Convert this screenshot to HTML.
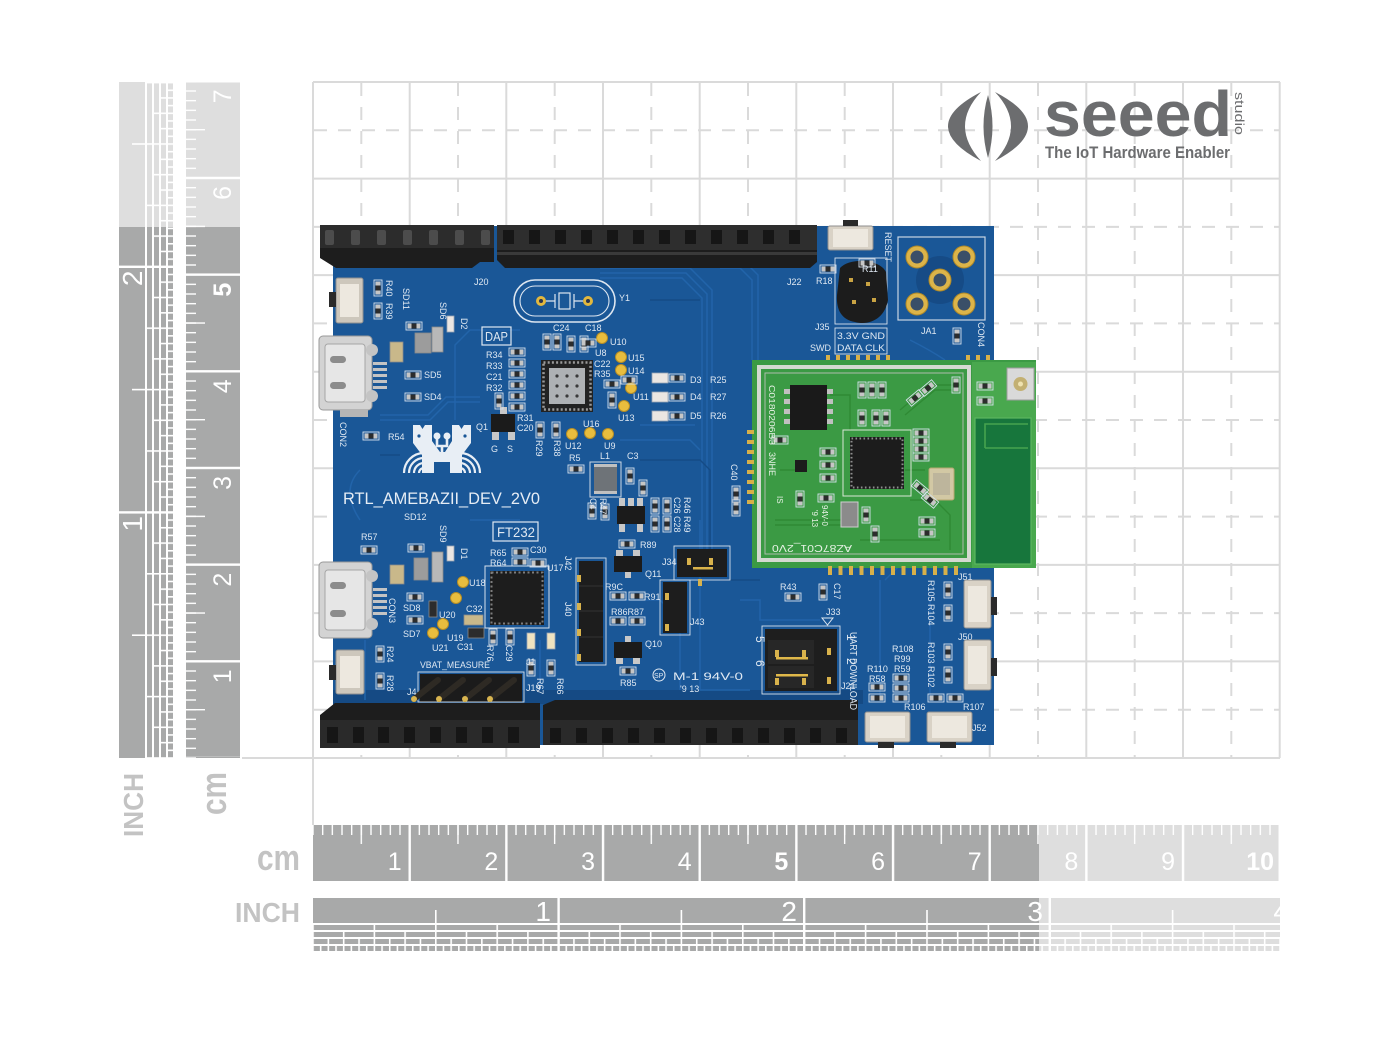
<!DOCTYPE html>
<html><head><meta charset="utf-8">
<style>
html,body{margin:0;padding:0;background:#fff;}
svg{display:block}
.s{font-family:"Liberation Sans",sans-serif;font-size:9px;fill:#dfe8f2}
.sm{font-family:"Liberation Sans",sans-serif;font-size:8px;fill:#e6f2e4}
.rl{font-family:"Liberation Sans",sans-serif;fill:#fff}
.lb{font-family:"Liberation Sans",sans-serif;font-weight:bold;fill:#c3c3c3}
</style></head><body>
<svg width="1400" height="1051" viewBox="0 0 1400 1051" xmlns="http://www.w3.org/2000/svg">
<defs>
<pattern id="cmm" patternUnits="userSpaceOnUse" x="312.3" y="0" width="9.6667" height="2000"><rect width="1.4" height="2000" fill="#fff"/></pattern>
<pattern id="chalf" patternUnits="userSpaceOnUse" x="360.6" y="0" width="96.667" height="2000"><rect width="1.4" height="2000" fill="#fff"/></pattern>
<pattern id="ccm" patternUnits="userSpaceOnUse" x="408.5" y="0" width="96.667" height="2000"><rect width="2.4" height="2000" fill="#fff"/></pattern>
<pattern id="pi4" patternUnits="userSpaceOnUse" x="312.2" y="0" width="61.4" height="2000"><rect width="1.6" height="2000" fill="#fff"/></pattern>
<pattern id="pi8" patternUnits="userSpaceOnUse" x="312.2" y="0" width="30.7" height="2000"><rect width="1.6" height="2000" fill="#fff"/></pattern>
<pattern id="pi16" patternUnits="userSpaceOnUse" x="312.2" y="0" width="15.35" height="2000"><rect width="1.6" height="2000" fill="#fff"/></pattern>
<pattern id="pi32" patternUnits="userSpaceOnUse" x="312.2" y="0" width="7.675" height="2000"><rect width="1.6" height="2000" fill="#fff"/></pattern>
<pattern id="vmm" patternUnits="userSpaceOnUse" x="0" y="757.3" width="2000" height="9.6667"><rect width="2000" height="1.4" fill="#fff"/></pattern>
<pattern id="vhalf" patternUnits="userSpaceOnUse" x="0" y="709" width="2000" height="96.667"><rect width="2000" height="1.4" fill="#fff"/></pattern>
<pattern id="vcm" patternUnits="userSpaceOnUse" x="0" y="660.1" width="2000" height="96.667"><rect width="2000" height="2.4" fill="#fff"/></pattern>
<pattern id="vi4" patternUnits="userSpaceOnUse" x="0" y="757.2" width="2000" height="61.4"><rect width="2000" height="1.6" fill="#fff"/></pattern>
<pattern id="vi8" patternUnits="userSpaceOnUse" x="0" y="757.2" width="2000" height="30.7"><rect width="2000" height="1.6" fill="#fff"/></pattern>
<pattern id="vi16" patternUnits="userSpaceOnUse" x="0" y="757.2" width="2000" height="15.35"><rect width="2000" height="1.6" fill="#fff"/></pattern>
<pattern id="vi32" patternUnits="userSpaceOnUse" x="0" y="757.2" width="2000" height="7.675"><rect width="2000" height="1.6" fill="#fff"/></pattern>
<g id="rh"><rect x="-8" y="-4" width="16" height="8" fill="none" stroke="#d6e0ec" stroke-width="0.9"/><rect x="-6.5" y="-2.6" width="4" height="5.2" fill="#c6c6c6"/><rect x="2.5" y="-2.6" width="4" height="5.2" fill="#c6c6c6"/><rect x="-2.5" y="-2.6" width="5" height="5.2" fill="#2c2c2c"/></g>
<g id="rv"><rect x="-4" y="-8" width="8" height="16" fill="none" stroke="#d6e0ec" stroke-width="0.9"/><rect x="-2.6" y="-6.5" width="5.2" height="4" fill="#c6c6c6"/><rect x="-2.6" y="2.5" width="5.2" height="4" fill="#c6c6c6"/><rect x="-2.6" y="-2.5" width="5.2" height="5" fill="#2c2c2c"/></g>
<g id="gp"><circle r="5.5" fill="#e8bd3e" stroke="#b58d26" stroke-width="1"/></g>
<g id="gpin"><rect x="-2" y="-3" width="4" height="7" fill="#d8b24c"/></g>
</defs>

<rect width="1400" height="1051" fill="#fff"/>

<!-- GRID -->
<g stroke="#dadada" stroke-width="2" fill="none">
<path d="M313 82V825M409.7 82V758M506.3 82V758M603 82V758M699.7 82V758M796.3 82V758M893 82V758M989.7 82V758M1086.3 82V758M1183 82V758M1279.7 82V758"/>
<path d="M313 82H1280M313 178.6H1280M313 275.1H1280M313 371.7H1280M313 468.3H1280M313 564.9H1280M313 661.4H1280M242 758H1280"/>
<path stroke-dasharray="13 11" d="M361.3 83V758M458 83V758M554.7 83V758M651.3 83V758M748 83V758M844.7 83V758M941.3 83V758M1038 83V758M1134.7 83V758M1231.3 83V758"/>
<path stroke-dasharray="13 11" d="M314 130.3H1280M314 226.9H1280M314 323.4H1280M314 420H1280M314 516.6H1280M314 613.1H1280M314 709.7H1280"/>
</g>

<!-- LEFT INCH RULER -->
<g fill="#a8a9a9">
<rect x="119" y="227" width="26" height="531"/><rect x="147" y="227" width="5" height="531"/><rect x="154" y="227" width="5" height="531"/><rect x="161" y="227" width="5" height="531"/><rect x="168" y="227" width="5" height="531"/>
</g>
<g fill="#dedede">
<rect x="119" y="82" width="26" height="145"/><rect x="147" y="82" width="5" height="145"/><rect x="154" y="82" width="5" height="145"/><rect x="161" y="82" width="5" height="145"/><rect x="168" y="82" width="5" height="145"/>
</g>
<rect x="147" y="82" width="5" height="676" fill="url(#vi4)"/>
<rect x="154" y="82" width="5" height="676" fill="url(#vi8)"/>
<rect x="161" y="82" width="5" height="676" fill="url(#vi16)"/>
<rect x="168" y="82" width="5" height="676" fill="url(#vi32)"/>
<g fill="#fff">
<rect x="119" y="511.2" width="54" height="2.4"/><rect x="119" y="265.6" width="54" height="2.4"/>
<rect x="132" y="634.4" width="13" height="1.6"/><rect x="132" y="388.8" width="13" height="1.6"/><rect x="132" y="143.2" width="13" height="1.6"/>
</g>
<text class="rl" font-size="28" text-anchor="end" transform="translate(142,516) rotate(-90)">1</text>
<text class="rl" font-size="28" text-anchor="end" transform="translate(142,270.5) rotate(-90)">2</text>

<!-- LEFT CM RULER -->
<rect x="186" y="227" width="54" height="531" fill="#a8a9a9"/>
<rect x="186" y="82" width="54" height="145" fill="#dedede"/>
<rect x="186" y="82" width="10" height="676" fill="url(#vmm)"/>
<rect x="186" y="82" width="19" height="676" fill="url(#vhalf)"/>
<rect x="186" y="82" width="54" height="675" fill="url(#vcm)"/>
<g class="rl" font-size="25" text-anchor="end">
<text transform="translate(231,669.3) rotate(-90)">1</text>
<text transform="translate(231,572.7) rotate(-90)">2</text>
<text transform="translate(231,476) rotate(-90)">3</text>
<text transform="translate(231,379.3) rotate(-90)">4</text>
<text transform="translate(231,282.7) rotate(-90)" font-weight="bold">5</text>
<text transform="translate(231,186) rotate(-90)">6</text>
<text transform="translate(231,89.3) rotate(-90)">7</text>
</g>
<text class="lb" font-size="28" textLength="64" lengthAdjust="spacingAndGlyphs" transform="translate(143,837) rotate(-90)">INCH</text>
<text class="lb" font-size="36" textLength="43" lengthAdjust="spacingAndGlyphs" transform="translate(226,815) rotate(-90)">cm</text>

<!-- BOTTOM CM RULER -->
<rect x="313" y="825" width="726" height="56" fill="#a8a9a9"/>
<rect x="1039" y="825" width="241" height="56" fill="#dedede"/>
<rect x="313" y="825" width="967" height="10" fill="url(#cmm)"/>
<rect x="313" y="825" width="967" height="19" fill="url(#chalf)"/>
<rect x="316" y="825" width="966" height="56" fill="url(#ccm)"/>
<g class="rl" font-size="25" text-anchor="end">
<text x="401.7" y="870">1</text><text x="498.3" y="870">2</text><text x="595" y="870">3</text><text x="691.7" y="870">4</text>
<text x="788.3" y="870" font-weight="bold">5</text><text x="885" y="870">6</text><text x="981.7" y="870">7</text>
<text x="1078.3" y="870">8</text><text x="1175" y="870">9</text><text x="1274" y="870" font-weight="bold">10</text>
</g>
<text class="lb" x="257" y="870" font-size="36" textLength="43" lengthAdjust="spacingAndGlyphs">cm</text>

<!-- BOTTOM INCH RULER -->
<g fill="#a8a9a9">
<rect x="313" y="898" width="726" height="25"/><rect x="313" y="925" width="726" height="5"/><rect x="313" y="932" width="726" height="5"/><rect x="313" y="939" width="726" height="5"/><rect x="313" y="946" width="726" height="5"/>
</g>
<g fill="#dedede">
<rect x="1039" y="898" width="241" height="25"/><rect x="1039" y="925" width="241" height="5"/><rect x="1039" y="932" width="241" height="5"/><rect x="1039" y="939" width="241" height="5"/><rect x="1039" y="946" width="241" height="5"/>
</g>
<rect x="313" y="925" width="967" height="5" fill="url(#pi4)"/>
<rect x="313" y="932" width="967" height="5" fill="url(#pi8)"/>
<rect x="313" y="939" width="967" height="5" fill="url(#pi16)"/>
<rect x="313" y="946" width="967" height="5" fill="url(#pi32)"/>
<g fill="#fff">
<rect x="557.4" y="898" width="2.4" height="53"/><rect x="803" y="898" width="2.4" height="53"/><rect x="1048.6" y="898" width="2.4" height="53"/>
<rect x="435" y="910" width="1.6" height="13"/><rect x="680.6" y="910" width="1.6" height="13"/><rect x="926.2" y="910" width="1.6" height="13"/><rect x="1171.8" y="910" width="1.6" height="13"/>
</g>
<g class="rl" font-size="28" text-anchor="end">
<text x="551" y="921">1</text><text x="797" y="921">2</text><text x="1043" y="921">3</text><text x="1289" y="921">4</text>
</g>
<rect x="1280" y="892" width="40" height="64" fill="#fff"/>
<text class="lb" x="235" y="922" font-size="28" textLength="65" lengthAdjust="spacingAndGlyphs">INCH</text>

<!-- SEEED LOGO -->
<g fill="#6c6d6f">
<path d="M981 92 Q915 126 981 161 Q949 126 981 92Z"/>
<path d="M995 92 Q1061 126 995 161 Q1027 126 995 92Z"/>
<path d="M988 95 Q979 126 988 158 Q997 126 988 95Z"/>
</g>
<text x="1044" y="136" font-family="Liberation Sans, sans-serif" font-weight="bold" font-size="64" fill="#6c6d6f" textLength="188" lengthAdjust="spacingAndGlyphs">seeed</text>
<text font-family="Liberation Sans, sans-serif" font-size="12.5" fill="#6c6d6f" textLength="43" lengthAdjust="spacingAndGlyphs" transform="translate(1235,92) rotate(90)">studio</text>
<text x="1045" y="158" font-family="Liberation Sans, sans-serif" font-weight="bold" font-size="16.5" fill="#6c6d6f" textLength="185" lengthAdjust="spacingAndGlyphs">The IoT Hardware Enabler</text>

<!-- ===== BOARD ===== -->
<rect x="333" y="226" width="661" height="519" fill="#1a5797"/>
<rect x="333" y="690" width="530" height="14" fill="#154a84"/>
<!-- traces -->
<g fill="none" stroke="#2264aa" stroke-width="1.5">
<path d="M600 268H690L712 290V565"/><path d="M600 273H686L707 294V565"/><path d="M600 278H682L702 298V565"/>
<path d="M720 268H740L752 280V360"/><path d="M727 262H745L758 275V360"/>
<path d="M520 330H470L455 345V420"/><path d="M525 412H500"/>
<path d="M380 420H430L448 402H480"/><path d="M380 415H428L446 397H480"/>
<path d="M620 440H690L700 450"/><path d="M640 425H695"/>
<path d="M360 470Q340 490 360 520"/><path d="M365 640V700"/>
<path d="M620 600H660L680 620V690"/><path d="M540 640V690"/>
<path d="M740 600H760V620H820"/><path d="M880 580V700"/><path d="M885 580L900 565"/>
<path d="M910 340Q930 350 945 360"/><path d="M700 520V690H750"/>
<path d="M930 600V700"/><path d="M470 520H520"/>
</g>
<g fill="none" stroke="#154b86" stroke-width="1.4">
<path d="M650 300H700"/><path d="M640 460H700L710 470V560"/><path d="M400 455H380"/><path d="M720 580H760"/>
</g>

<!-- top headers -->
<path d="M320 225H494V262H480L472 268H336L320 258Z" fill="#1d1d1d"/>
<rect x="320" y="225" width="174" height="23" fill="#2c2c2c"/>
<g fill="#4c4c4c"><rect x="325" y="230" width="9" height="15" rx="2"/><rect x="351" y="230" width="9" height="15" rx="2"/><rect x="377" y="230" width="9" height="15" rx="2"/><rect x="403" y="230" width="9" height="15" rx="2"/><rect x="429" y="230" width="9" height="15" rx="2"/><rect x="455" y="230" width="9" height="15" rx="2"/><rect x="481" y="230" width="9" height="15" rx="2"/></g>
<path d="M497 225H817V262L810 268H505L497 260Z" fill="#1d1d1d"/>
<rect x="497" y="225" width="320" height="25" fill="#2e2e2e"/>
<g fill="#161616"><rect x="503" y="230" width="11" height="14"/><rect x="529" y="230" width="11" height="14"/><rect x="555" y="230" width="11" height="14"/><rect x="581" y="230" width="11" height="14"/><rect x="607" y="230" width="11" height="14"/><rect x="633" y="230" width="11" height="14"/><rect x="659" y="230" width="11" height="14"/><rect x="685" y="230" width="11" height="14"/><rect x="711" y="230" width="11" height="14"/><rect x="737" y="230" width="11" height="14"/><rect x="763" y="230" width="11" height="14"/><rect x="789" y="230" width="11" height="14"/></g>
<rect x="497" y="252" width="320" height="3" fill="#3a3a3a"/>

<!-- bottom headers -->
<path d="M320 715L335 703H540V748H320Z" fill="#1d1d1d"/>
<rect x="320" y="720" width="220" height="28" fill="#2a2a2a"/>
<g fill="#161616"><rect x="327" y="727" width="11" height="16"/><rect x="353" y="727" width="11" height="16"/><rect x="378" y="727" width="11" height="16"/><rect x="404" y="727" width="11" height="16"/><rect x="430" y="727" width="11" height="16"/><rect x="456" y="727" width="11" height="16"/><rect x="482" y="727" width="11" height="16"/><rect x="508" y="727" width="11" height="16"/></g>
<path d="M543 705L555 700H858V745H543Z" fill="#1d1d1d"/>
<rect x="543" y="720" width="315" height="25" fill="#2a2a2a"/>
<g fill="#161616"><rect x="550" y="728" width="11" height="15"/><rect x="576" y="728" width="11" height="15"/><rect x="602" y="728" width="11" height="15"/><rect x="628" y="728" width="11" height="15"/><rect x="654" y="728" width="11" height="15"/><rect x="680" y="728" width="11" height="15"/><rect x="706" y="728" width="11" height="15"/><rect x="732" y="728" width="11" height="15"/><rect x="758" y="728" width="11" height="15"/><rect x="784" y="728" width="11" height="15"/><rect x="810" y="728" width="11" height="15"/><rect x="836" y="728" width="11" height="15"/></g>

<!-- J4 right-angle header -->
<rect x="420" y="674" width="102" height="28" fill="#1b1b1b"/>
<rect x="418" y="672" width="106" height="30" fill="none" stroke="#d6e0ec" stroke-width="0.9"/>
<g stroke="#2e2a24" stroke-width="6" stroke-linecap="round"><path d="M414 699L438 680"/><path d="M439 699L463 680"/><path d="M465 699L489 680"/><path d="M490 699L514 680"/></g>
<g fill="#d9b550"><circle cx="414" cy="699" r="3"/><circle cx="439" cy="699" r="3"/><circle cx="465" cy="699" r="3"/><circle cx="490" cy="699" r="3"/></g>

<!-- USB connectors -->
<g>
<rect x="319" y="336" width="53" height="74" rx="4" fill="#d3d3d3" stroke="#9a9a9a"/>
<rect x="325" y="344" width="40" height="58" rx="3" fill="#e6e6e6" stroke="#a5a5a5"/>
<rect x="330" y="356" width="16" height="7" rx="3.5" fill="#8c8c8c"/><rect x="330" y="382" width="16" height="7" rx="3.5" fill="#8c8c8c"/>
<rect x="340" y="409" width="28" height="8" fill="#b5b5b5"/>
<circle cx="372" cy="350" r="6" fill="#c4c4c4"/><circle cx="372" cy="396" r="6" fill="#c4c4c4"/>
<g fill="#c4c4c4"><rect x="373" y="362" width="14" height="3"/><rect x="373" y="368" width="14" height="3"/><rect x="373" y="374" width="14" height="3"/><rect x="373" y="380" width="14" height="3"/><rect x="373" y="386" width="14" height="3"/></g>
</g>
<g transform="translate(0,226)">
<rect x="319" y="336" width="53" height="76" rx="4" fill="#d3d3d3" stroke="#9a9a9a"/>
<rect x="325" y="344" width="40" height="60" rx="3" fill="#e6e6e6" stroke="#a5a5a5"/>
<rect x="330" y="356" width="16" height="7" rx="3.5" fill="#8c8c8c"/><rect x="330" y="384" width="16" height="7" rx="3.5" fill="#8c8c8c"/>
<circle cx="372" cy="350" r="6" fill="#c4c4c4"/><circle cx="372" cy="398" r="6" fill="#c4c4c4"/>
<g fill="#c4c4c4"><rect x="373" y="362" width="14" height="3"/><rect x="373" y="368" width="14" height="3"/><rect x="373" y="374" width="14" height="3"/><rect x="373" y="380" width="14" height="3"/><rect x="373" y="386" width="14" height="3"/></g>
</g>

<!-- slide switches -->
<g stroke="#8f8f8f">
<rect x="336" y="278" width="27" height="45" rx="2" fill="#cdc7bc"/>
<rect x="336" y="650" width="28" height="44" rx="2" fill="#cdc7bc"/>
<rect x="828" y="226" width="45" height="24" rx="2" fill="#d9d2c6"/>
<rect x="964" y="580" width="27" height="48" rx="2" fill="#d9d2c6"/>
<rect x="964" y="640" width="27" height="50" rx="2" fill="#d9d2c6"/>
<rect x="865" y="712" width="45" height="30" rx="2" fill="#d9d2c6"/>
<rect x="927" y="712" width="45" height="30" rx="2" fill="#d9d2c6"/>
</g>
<g fill="#ede8df">
<rect x="340" y="284" width="19" height="33"/><rect x="340" y="656" width="20" height="32"/>
<rect x="833" y="229" width="35" height="18"/><rect x="968" y="586" width="19" height="36"/><rect x="968" y="646" width="19" height="38"/>
<rect x="870" y="716" width="35" height="22"/><rect x="932" y="716" width="35" height="22"/>
</g>
<g fill="#2a2a2a">
<rect x="329" y="292" width="7" height="15"/><rect x="329" y="665" width="7" height="15"/><rect x="843" y="220" width="15" height="6"/>
<rect x="991" y="597" width="6" height="18"/><rect x="991" y="658" width="6" height="18"/><rect x="878" y="742" width="16" height="6"/><rect x="940" y="742" width="16" height="6"/>
</g>

<!-- JA1 -->
<rect x="898" y="237" width="87" height="83" fill="none" stroke="#c9d5e3" stroke-width="1.2"/>
<circle cx="940" cy="280" r="24" fill="#164b86"/>
<g fill="#dcb449" stroke="#b18a28"><circle cx="917" cy="257" r="11"/><circle cx="964" cy="257" r="11"/><circle cx="940" cy="280" r="11"/><circle cx="917" cy="304" r="11"/><circle cx="964" cy="304" r="11"/></g>
<g fill="#3a4f68"><circle cx="917" cy="257" r="6.5"/><circle cx="964" cy="257" r="6.5"/><circle cx="940" cy="280" r="6.5"/><circle cx="917" cy="304" r="6.5"/><circle cx="964" cy="304" r="6.5"/></g>

<!-- SWD blob -->
<rect x="835" y="258" width="52" height="66" fill="none" stroke="#d6e0ec" stroke-width="0.9"/>
<path d="M840 268C850 257 880 259 886 272L888 300C885 318 870 326 855 322C842 320 836 310 837 295Z" fill="#1c1c1c"/>
<g fill="#c9a343"><rect x="849" y="278" width="4" height="4"/><rect x="866" y="282" width="4" height="4"/><rect x="852" y="300" width="4" height="4"/><rect x="872" y="298" width="4" height="4"/></g>
<rect x="835" y="328" width="52" height="26" fill="none" stroke="#d6e0ec" stroke-width="0.9"/>

<!-- crystal Y1 -->
<rect x="514" y="280" width="101" height="42" rx="21" fill="none" stroke="#dde6f0" stroke-width="1.6"/>
<rect x="520" y="286" width="89" height="30" rx="15" fill="none" stroke="#dde6f0" stroke-width="1.1"/>
<g fill="#e2b83e"><circle cx="541" cy="301" r="5"/><circle cx="588" cy="301" r="5"/></g>
<g fill="#2a3550"><circle cx="541" cy="301" r="2"/><circle cx="588" cy="301" r="2"/></g>
<g stroke="#dde6f0" stroke-width="1.2" fill="none"><path d="M546 301H555M555 294V308M574 294V308M574 301H583"/><rect x="559" y="293" width="11" height="16"/></g>

<!-- DAP chip -->
<rect x="541" y="360" width="52" height="52" fill="#222"/>
<rect x="543.5" y="362.5" width="47" height="47" fill="none" stroke="#9a9a9a" stroke-width="2.5" stroke-dasharray="2 2.2"/>
<rect x="549" y="368" width="36" height="36" fill="#aeb1b4"/>
<g fill="#3a3a3a"><circle cx="557" cy="376" r="1.6"/><circle cx="567" cy="376" r="1.6"/><circle cx="577" cy="376" r="1.6"/><circle cx="557" cy="386" r="1.6"/><circle cx="567" cy="386" r="1.6"/><circle cx="577" cy="386" r="1.6"/><circle cx="557" cy="396" r="1.6"/><circle cx="567" cy="396" r="1.6"/><circle cx="577" cy="396" r="1.6"/></g>
<rect x="482" y="327" width="29" height="18" fill="none" stroke="#dfe8f2" stroke-width="1.2"/>
<text x="485" y="341" font-family="Liberation Sans, sans-serif" font-size="13" fill="#dfe8f2" textLength="23" lengthAdjust="spacingAndGlyphs">DAP</text>

<!-- FT232 chip -->
<rect x="485" y="566" width="64" height="62" fill="none" stroke="#d6e0ec" stroke-width="1"/>
<rect x="490" y="571" width="54" height="54" fill="#1d1d1d"/>
<rect x="491.5" y="572.5" width="51" height="51" fill="none" stroke="#7d7d7d" stroke-width="2" stroke-dasharray="2 2.5"/>
<rect x="493" y="522" width="45" height="19" fill="none" stroke="#dfe8f2" stroke-width="1.2"/>
<text x="497" y="537" font-family="Liberation Sans, sans-serif" font-size="14" fill="#dfe8f2" textLength="38" lengthAdjust="spacingAndGlyphs">FT232</text>

<!-- Realtek logo -->
<g fill="#e8eef5">
<path d="M413 425H420L422.5 429L425 425H432V441L440 452H445L452 441V425H459L461.5 429L464 425H471V443L462 455V473H450V462H434V473H422V455L413 443Z"/>
<circle cx="437" cy="436" r="3.5"/><circle cx="447" cy="436" r="3.5"/>
</g>
<path d="M437 436V446H447V436M442 446V452" fill="none" stroke="#e8eef5" stroke-width="2.6"/>
<g fill="#1a5797"><circle cx="419" cy="436" r="1.6"/><circle cx="465" cy="436" r="1.6"/></g>
<g fill="none" stroke="#e8eef5" stroke-width="2.2">
<path d="M419 473A5 5 0 0 1 424 468"/><path d="M414 473A10 10 0 0 1 424 463"/><path d="M409 473A15 15 0 0 1 424 458"/><path d="M404 473A20 20 0 0 1 424 453"/>
<path d="M465 473A5 5 0 0 0 460 468"/><path d="M470 473A10 10 0 0 0 460 463"/><path d="M475 473A15 15 0 0 0 460 458"/><path d="M480 473A20 20 0 0 0 460 453"/>
</g>

<!-- Transistors / ICs -->
<g fill="#1b1b1b"><rect x="491" y="414" width="24" height="18"/><rect x="614" y="556" width="28" height="16"/><rect x="614" y="642" width="28" height="16"/><rect x="617" y="506" width="28" height="18"/></g>
<g fill="#c8c8c8">
<rect x="492" y="432" width="7" height="8"/><rect x="508" y="432" width="7" height="8"/><rect x="500" y="407" width="7" height="7"/>
<rect x="616" y="550" width="7" height="6"/><rect x="633" y="550" width="7" height="6"/><rect x="625" y="572" width="6" height="6"/>
<rect x="625" y="636" width="6" height="6"/><rect x="616" y="658" width="7" height="6"/><rect x="633" y="658" width="7" height="6"/>
<rect x="619" y="498" width="6" height="8"/><rect x="628" y="498" width="6" height="8"/><rect x="637" y="498" width="6" height="8"/><rect x="619" y="524" width="6" height="8"/><rect x="637" y="524" width="6" height="8"/>
</g>
<!-- L1 -->
<rect x="590" y="462" width="31" height="35" fill="none" stroke="#cfd9e5"/>
<rect x="594" y="467" width="23" height="24" fill="#6e7378"/>
<rect x="594" y="464" width="23" height="3" fill="#c0c0c0"/><rect x="594" y="491" width="23" height="3" fill="#c0c0c0"/>

<!-- Jumpers -->
<rect x="576" y="558" width="30" height="107" fill="none" stroke="#d6e0ec" stroke-width="0.9"/>
<rect x="579" y="561" width="24" height="101" fill="#1d1d1d"/>
<g stroke="#333" stroke-width="1"><path d="M579 586H603M579 611H603M579 637H603"/></g>
<rect x="674" y="546" width="56" height="34" fill="none" stroke="#d6e0ec" stroke-width="0.9"/>
<rect x="677" y="549" width="50" height="28" fill="#1d1d1d"/>
<rect x="693" y="567" width="20" height="2.5" fill="#d9b24a"/>
<rect x="660" y="580" width="30" height="55" fill="none" stroke="#d6e0ec" stroke-width="0.9"/>
<rect x="663" y="582" width="24" height="51" fill="#1d1d1d"/>
<rect x="762" y="626" width="78" height="68" fill="none" stroke="#d6e0ec" stroke-width="0.9"/>
<rect x="765" y="629" width="72" height="62" fill="#1e1e1e"/>
<rect x="768" y="640" width="46" height="24" fill="#272727"/><rect x="768" y="666" width="46" height="22" fill="#272727"/>
<rect x="776" y="657" width="32" height="2.5" fill="#e0b84a"/><rect x="776" y="674" width="32" height="2.5" fill="#e0b84a"/>
<g>
<use href="#gpin" x="579" y="578"/><use href="#gpin" x="579" y="606"/><use href="#gpin" x="579" y="632"/><use href="#gpin" x="579" y="657"/>
<use href="#gpin" x="689" y="561"/><use href="#gpin" x="711" y="561"/><use href="#gpin" x="700" y="582"/>
<use href="#gpin" x="667" y="596"/><use href="#gpin" x="667" y="627"/>
<use href="#gpin" x="777" y="653"/><use href="#gpin" x="804" y="653"/><use href="#gpin" x="777" y="681"/><use href="#gpin" x="804" y="681"/><use href="#gpin" x="829" y="651"/><use href="#gpin" x="829" y="680"/>
</g>
<path d="M822 618H833L827.5 625Z" fill="none" stroke="#dfe8f2"/>

<!-- gold test points -->
<g>
<use href="#gp" x="602" y="338"/><use href="#gp" x="621" y="357"/><use href="#gp" x="621" y="370"/><use href="#gp" x="631" y="388"/><use href="#gp" x="624" y="406"/>
<use href="#gp" x="590" y="433"/><use href="#gp" x="572" y="434"/><use href="#gp" x="608" y="434"/>
<use href="#gp" x="463" y="582"/><use href="#gp" x="456" y="598"/><use href="#gp" x="443" y="624"/><use href="#gp" x="433" y="633"/>
</g>

<!-- LEDs & passives -->
<g fill="#ebe6e2" stroke="#9aa6b5" stroke-width="0.8">
<rect x="652" y="373" width="16" height="10"/><rect x="652" y="392" width="16" height="10"/><rect x="652" y="411" width="16" height="10"/>
<rect x="447" y="316" width="7" height="16"/><rect x="447" y="546" width="7" height="15"/>
</g>
<g fill="#efe3c0" stroke="#9aa6b5" stroke-width="0.8"><rect x="527" y="633" width="8" height="16"/><rect x="547" y="633" width="8" height="16"/></g>
<g stroke="#8a8a8a" stroke-width="0.8">
<rect x="415" y="333" width="16" height="20" fill="#9c9c9c"/><rect x="414" y="558" width="14" height="22" fill="#9c9c9c"/>
<rect x="390" y="342" width="13" height="20" fill="#c9b88a"/><rect x="390" y="565" width="14" height="19" fill="#c9b88a"/>
<rect x="432" y="327" width="11" height="25" fill="#b8b8b8"/><rect x="432" y="552" width="11" height="30" fill="#b8b8b8"/>
<rect x="464" y="615" width="19" height="10" fill="#c9b88a"/><rect x="468" y="628" width="16" height="10" fill="#2c2c2c"/>
<rect x="429" y="601" width="8" height="16" fill="#2c2c2c"/>
</g>
<g>
<use href="#rv" x="378" y="288"/><use href="#rv" x="378" y="311"/>
<use href="#rh" x="414" y="326"/><use href="#rh" x="413" y="375"/><use href="#rh" x="413" y="397"/>
<use href="#rh" x="517" y="352"/><use href="#rh" x="517" y="363"/><use href="#rh" x="517" y="374"/><use href="#rh" x="517" y="385"/><use href="#rh" x="517" y="396"/><use href="#rh" x="517" y="407"/>
<use href="#rv" x="499" y="401"/>
<use href="#rv" x="547" y="342"/><use href="#rv" x="557" y="342"/><use href="#rv" x="571" y="344"/><use href="#rv" x="584" y="344"/>
<use href="#rh" x="588" y="343"/>
<use href="#rh" x="371" y="436"/>
<use href="#rv" x="540" y="430"/><use href="#rv" x="556" y="430"/>
<use href="#rh" x="576" y="469"/>
<use href="#rv" x="630" y="476"/><use href="#rv" x="643" y="488"/>
<use href="#rv" x="592" y="511"/><use href="#rv" x="605" y="512"/>
<use href="#rv" x="655" y="506"/><use href="#rv" x="667" y="506"/><use href="#rv" x="655" y="524"/><use href="#rv" x="667" y="524"/>
<use href="#rh" x="627" y="544"/>
<use href="#rh" x="618" y="596"/><use href="#rh" x="637" y="596"/>
<use href="#rh" x="618" y="621"/><use href="#rh" x="637" y="621"/>
<use href="#rh" x="628" y="671"/>
<use href="#rh" x="520" y="552"/><use href="#rh" x="520" y="562"/><use href="#rh" x="538" y="563"/>
<use href="#rv" x="493" y="637"/><use href="#rv" x="510" y="637"/>
<use href="#rv" x="531" y="668"/><use href="#rv" x="551" y="668"/>
<use href="#rh" x="416" y="548"/><use href="#rh" x="369" y="550"/>
<use href="#rh" x="415" y="597"/><use href="#rh" x="415" y="620"/>
<use href="#rv" x="380" y="654"/><use href="#rv" x="380" y="681"/>
<use href="#rh" x="793" y="597"/><use href="#rv" x="823" y="592"/>
<use href="#rv" x="948" y="590"/><use href="#rv" x="948" y="613"/><use href="#rv" x="948" y="652"/><use href="#rv" x="948" y="675"/>
<use href="#rh" x="901" y="678"/><use href="#rh" x="901" y="688"/><use href="#rh" x="901" y="698"/>
<use href="#rh" x="877" y="687"/><use href="#rh" x="877" y="698"/>
<use href="#rh" x="936" y="698"/><use href="#rh" x="955" y="698"/>
<use href="#rh" x="828" y="269"/><use href="#rh" x="867" y="263"/>
<use href="#rv" x="957" y="336"/>
<use href="#rh" x="677" y="378"/><use href="#rh" x="677" y="397"/><use href="#rh" x="677" y="416"/>
<use href="#rv" x="736" y="494"/><use href="#rv" x="736" y="508"/>
<use href="#rh" x="629" y="380"/><use href="#rh" x="612" y="384"/><use href="#rv" x="612" y="400"/>
</g>

<!-- silk text -->
<g class="s">
<text x="474" y="285">J20</text><text x="619" y="301">Y1</text>
<text x="486" y="358">R34</text><text x="486" y="369">R33</text><text x="486" y="380">C21</text><text x="486" y="391">R32</text>
<text x="553" y="331">C24</text><text x="585" y="331">C18</text>
<text x="610" y="345">U10</text><text x="595" y="356">U8</text><text x="594" y="367">C22</text><text x="594" y="377">R35</text>
<text x="628" y="361">U15</text><text x="628" y="374">U14</text><text x="633" y="400">U11</text><text x="618" y="421">U13</text>
<text x="424" y="378">SD5</text><text x="424" y="400">SD4</text><text x="388" y="440">R54</text>
<text x="476" y="430">Q1</text><text x="517" y="421">R31</text><text x="517" y="431">C20</text>
<text x="491" y="452">G</text><text x="507" y="452">S</text>
<text x="583" y="427">U16</text><text x="565" y="449">U12</text><text x="604" y="449">U9</text>
<text x="569" y="461">R5</text><text x="600" y="459">L1</text><text x="627" y="459">C3</text>
<text x="690" y="383">D3</text><text x="710" y="383">R25</text><text x="690" y="400">D4</text><text x="710" y="400">R27</text><text x="690" y="419">D5</text><text x="710" y="419">R26</text>
<text x="787" y="285">J22</text><text x="816" y="284">R18</text><text x="862" y="272">R11</text>
<text x="815" y="330">J35</text><text x="810" y="351">SWD</text>
<text x="837" y="339" textLength="48" lengthAdjust="spacingAndGlyphs">3.3V GND</text>
<text x="837" y="351" textLength="48" lengthAdjust="spacingAndGlyphs">DATA CLK</text>
<text x="921" y="334">JA1</text>
<text x="404" y="520">SD12</text><text x="361" y="540">R57</text>
<text x="490" y="556">R65</text><text x="530" y="553">C30</text><text x="490" y="566">R64</text><text x="547" y="571">U17</text>
<text x="469" y="586">U18</text><text x="439" y="618">U20</text><text x="466" y="612">C32</text><text x="447" y="641">U19</text><text x="432" y="651">U21</text><text x="457" y="650">C31</text>
<text x="403" y="611">SD8</text><text x="403" y="637">SD7</text>
<text x="420" y="668" textLength="70" lengthAdjust="spacingAndGlyphs">VBAT_MEASURE</text>
<text x="407" y="695">J4</text><text x="526" y="665">J1</text><text x="526" y="691">J19</text>
<text x="640" y="548">R89</text><text x="645" y="577">Q11</text><text x="605" y="590">R9C</text><text x="644" y="600">R91</text><text x="611" y="615">R86R87</text><text x="645" y="647">Q10</text><text x="620" y="686">R85</text>
<text x="662" y="565">J34</text><text x="690" y="625">J43</text>
<text x="780" y="590">R43</text><text x="826" y="615">J33</text>
<text x="892" y="652">R108</text><text x="894" y="662">R99</text><text x="894" y="672">R59</text><text x="867" y="672">R110</text><text x="869" y="682">R58</text>
<text x="958" y="580">J51</text><text x="958" y="640">J50</text><text x="904" y="710">R106</text><text x="963" y="710">R107</text><text x="972" y="731">J52</text>
<text transform="translate(885,232) rotate(90)">RESET</text>
<text transform="translate(978,322) rotate(90)">CON4</text>
<text transform="translate(340,422) rotate(90)">CON2</text>
<text transform="translate(389,598) rotate(90)">CON3</text>
<text transform="translate(386,280) rotate(90)">R40</text><text transform="translate(386,303) rotate(90)">R39</text>
<text transform="translate(387,646) rotate(90)">R24</text><text transform="translate(387,675) rotate(90)">R28</text>
<text transform="translate(565,556) rotate(90)">J42</text><text transform="translate(565,602) rotate(90)">J40</text>
<text transform="translate(731,464) rotate(90)">C40</text>
<text transform="translate(928,580) rotate(90)">R105 R104</text><text transform="translate(928,642) rotate(90)">R103 R102</text>
<text transform="translate(834,583) rotate(90)">C17</text>
<text transform="translate(684,497) rotate(90)">R46 R49</text><text transform="translate(674,497) rotate(90)">C26 C28</text>
<text transform="translate(600,498) rotate(90)">R47</text><text transform="translate(590,498) rotate(90)">C4</text>
<text transform="translate(536,440) rotate(90)">R29</text><text transform="translate(554,440) rotate(90)">R38</text>
<text transform="translate(487,645) rotate(90)">R76</text><text transform="translate(506,645) rotate(90)">C29</text>
<text transform="translate(537,678) rotate(90)">R67</text><text transform="translate(557,678) rotate(90)">R66</text>
<text transform="translate(403,288) rotate(90)">SD11</text><text transform="translate(440,302) rotate(90)">SD6</text><text transform="translate(440,525) rotate(90)">SD9</text>
<text transform="translate(461,318) rotate(90)">D2</text><text transform="translate(461,548) rotate(90)">D1</text>
<text transform="translate(756,636) rotate(90)" font-size="12">5</text><text transform="translate(756,660) rotate(90)" font-size="12">6</text>
<text transform="translate(847,634) rotate(90)" font-size="12">1</text><text transform="translate(847,658) rotate(90)" font-size="12">2</text>
<text transform="translate(850,632) rotate(90)" font-size="10" textLength="78" lengthAdjust="spacingAndGlyphs">UART DOWNLOAD</text>
<text x="841" y="689">J21</text>
<text x="673" y="680" font-size="11" textLength="70" lengthAdjust="spacingAndGlyphs">M-1 94V-0</text>
<text x="680" y="692" font-size="9">'9 13</text>
</g>
<circle cx="659" cy="675" r="6" fill="none" stroke="#dfe8f2"/>
<text x="654" y="678" font-family="Liberation Sans, sans-serif" font-size="7" fill="#dfe8f2">SP</text>
<text x="343" y="504" font-family="Liberation Sans, sans-serif" font-size="17" fill="#e6edf5" textLength="197" lengthAdjust="spacingAndGlyphs">RTL_AMEBAZII_DEV_2V0</text>

<!-- ===== WIFI MODULE ===== -->
<g fill="#d7b04a">
<rect x="826" y="355" width="4" height="8"/><rect x="836" y="355" width="4" height="8"/><rect x="846" y="355" width="4" height="8"/><rect x="856" y="355" width="4" height="8"/><rect x="866" y="355" width="4" height="8"/><rect x="876" y="355" width="4" height="8"/><rect x="886" y="355" width="4" height="8"/>
<rect x="966" y="355" width="4" height="8"/><rect x="976" y="355" width="4" height="8"/><rect x="986" y="355" width="4" height="8"/>
</g>
<rect x="752" y="360" width="284" height="208" fill="#3b9a44"/>
<rect x="972" y="362" width="64" height="206" fill="#49a84e"/>
<rect x="975" y="418" width="56" height="146" fill="#17763c" stroke="#5bb75f" stroke-width="1.2"/>
<path d="M985 448V424H1028M985 448H1028" fill="none" stroke="#46a34e" stroke-width="1.6"/>
<g fill="none" stroke="#2f8a34" stroke-width="1.4">
<path d="M775 520H840L850 510"/><path d="M775 525H845L858 512"/><path d="M900 410L930 385H960"/><path d="M905 415L935 390H960"/>
<path d="M780 470H800"/><path d="M910 500H935L950 515V550"/><path d="M860 540H940"/><path d="M770 400V440"/>
<path d="M830 395H850V430"/><path d="M905 470H925"/>
</g>
<rect x="759" y="367" width="210" height="193" fill="none" stroke="#d4d9d1" stroke-width="4"/>
<rect x="765" y="373" width="198" height="181" fill="none" stroke="#aebcab" stroke-width="1"/>
<rect x="790" y="385" width="37" height="45" fill="#1a1a1a"/>
<g fill="#c0c0c0"><rect x="784" y="389" width="6" height="5"/><rect x="784" y="399" width="6" height="5"/><rect x="784" y="409" width="6" height="5"/><rect x="784" y="419" width="6" height="5"/><rect x="827" y="389" width="6" height="5"/><rect x="827" y="399" width="6" height="5"/><rect x="827" y="409" width="6" height="5"/><rect x="827" y="419" width="6" height="5"/></g>
<rect x="843" y="430" width="68" height="66" fill="none" stroke="#d8e6d6" stroke-width="1"/>
<rect x="850" y="437" width="54" height="52" fill="#1c1c1c"/>
<rect x="851.5" y="438.5" width="51" height="49" fill="none" stroke="#8d8d8d" stroke-width="2" stroke-dasharray="1.6 2.4"/>
<rect x="929" y="468" width="25" height="32" rx="2" fill="#d2c8a4" stroke="#b6a870"/>
<rect x="933" y="473" width="17" height="22" fill="#bdb59c"/>
<rect x="841" y="502" width="17" height="25" fill="#8b8b8b" stroke="#cfcfcf"/>
<rect x="795" y="460" width="12" height="12" fill="#1c1c1c"/>
<g>
<use href="#rv" x="862" y="390"/><use href="#rv" x="872" y="390"/><use href="#rv" x="882" y="390"/>
<use href="#rv" x="862" y="418"/><use href="#rv" x="876" y="418"/><use href="#rv" x="886" y="418"/>
<use href="#rh" x="921" y="433"/><use href="#rh" x="921" y="441"/><use href="#rh" x="921" y="449"/><use href="#rh" x="921" y="457"/>
<use href="#rh" x="828" y="452"/><use href="#rh" x="828" y="465"/><use href="#rh" x="828" y="478"/>
<use href="#rv" x="800" y="499"/><use href="#rh" x="826" y="498"/><use href="#rv" x="866" y="515"/><use href="#rv" x="875" y="534"/>
<use href="#rh" x="927" y="521"/><use href="#rh" x="927" y="533"/><use href="#rv" x="956" y="385"/>
<use href="#rh" x="985" y="386"/><use href="#rh" x="985" y="401"/><use href="#rh" x="780" y="440"/>
<use href="#rh" x="915" y="398" transform="rotate(-40 915 398)"/><use href="#rh" x="928" y="388" transform="rotate(-40 928 388)"/>
<use href="#rh" x="920" y="488" transform="rotate(40 920 488)"/><use href="#rh" x="930" y="500" transform="rotate(40 930 500)"/>
</g>
<rect x="1007" y="368" width="27" height="32" fill="#d9d9d9" stroke="#9d9d9d"/>
<circle cx="1020.5" cy="384" r="7" fill="#c3b072"/><circle cx="1020.5" cy="384" r="2.5" fill="#efe2b0"/>
<g fill="#d7b04a">
<rect x="747" y="430" width="7" height="4"/><rect x="747" y="440" width="7" height="4"/><rect x="747" y="450" width="7" height="4"/><rect x="747" y="460" width="7" height="4"/><rect x="747" y="470" width="7" height="4"/><rect x="747" y="480" width="7" height="4"/><rect x="747" y="490" width="7" height="4"/><rect x="747" y="500" width="7" height="4"/>
<rect x="828" y="566" width="4" height="9"/><rect x="838.5" y="566" width="4" height="9"/><rect x="849" y="566" width="4" height="9"/><rect x="859.5" y="566" width="4" height="9"/><rect x="870" y="566" width="4" height="9"/><rect x="880.5" y="566" width="4" height="9"/><rect x="891" y="566" width="4" height="9"/><rect x="901.5" y="566" width="4" height="9"/><rect x="912" y="566" width="4" height="9"/><rect x="922.5" y="566" width="4" height="9"/><rect x="933" y="566" width="4" height="9"/><rect x="943.5" y="566" width="4" height="9"/><rect x="954" y="566" width="4" height="9"/>
</g>
<g class="sm">
<text transform="translate(769,385) rotate(90)" textLength="60" lengthAdjust="spacingAndGlyphs">C0180206B3</text>
<text transform="translate(769,452) rotate(90)" font-size="9">3NHE</text>
<text transform="translate(777,496) rotate(90)">IS</text>
<text transform="translate(822,505) rotate(90)">94V-0</text>
<text transform="translate(812,510) rotate(90)">'9 13</text>
<text transform="translate(852,545) rotate(180)" font-size="10" textLength="80" lengthAdjust="spacingAndGlyphs">AZ87C01_2V0</text>
</g>
</svg>
</body></html>
